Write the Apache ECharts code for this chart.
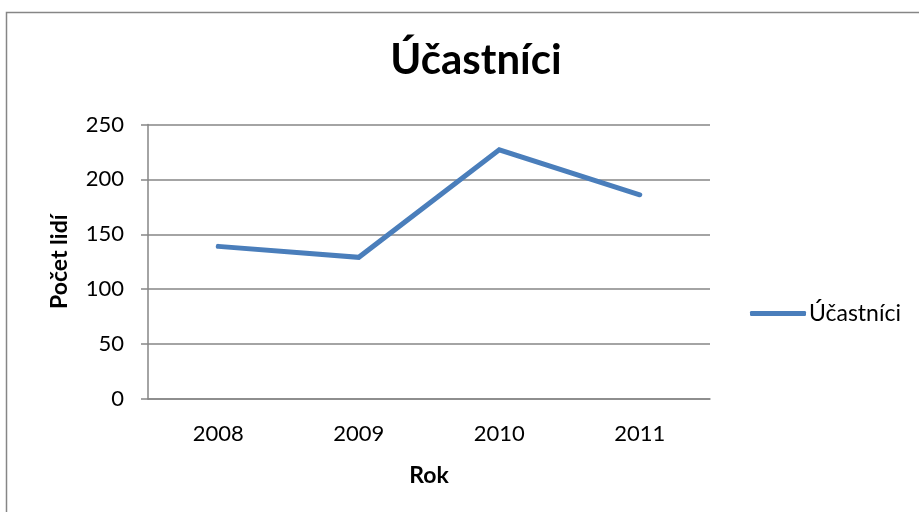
<!DOCTYPE html>
<html><head><meta charset="utf-8">
<script src="https://cdn.jsdelivr.net/npm/echarts@6/dist/echarts.min.js"></script>
<style>html,body{margin:0;padding:0;background:#fff}#c{width:919px;height:512px}</style>
</head><body><div id="c"></div>
<script>
const categories = ['2008', '2009', '2010', '2011'];
const seriesName = 'Účastníci';
const values = [139, 129, 227, 186];
const yTicks = [0, 50, 100, 150, 200, 250];

const FONT = 'Lato, "Open Sans", sans-serif';
const chart = echarts.init(document.getElementById('c'), null, {renderer: 'canvas'});
chart.setOption({
  animation: false,
  backgroundColor: '#fff',
  graphic: [{
    type: 'rect', shape: {x: 6.5, y: 12.5, width: 930, height: 520},
    style: {fill: 'none', stroke: '#868686', lineWidth: 1.5}, silent: true
  }],
  title: {
    text: 'Účastníci', left: 471, top: 34, textAlign: 'center',
    textStyle: {fontFamily: FONT, fontWeight: 'bold', fontSize: 42, color: '#000'}
  },
  legend: {
    data: [seriesName], left: 745, top: 297, itemWidth: 56, itemHeight: 5, itemGap: 0,
    icon: 'roundRect',
    textStyle: {fontFamily: FONT, fontSize: 23, color: '#000', padding: [0, 0, 0, -2]}
  },
  grid: {left: 148, right: 209, top: 124.5, bottom: 113, containLabel: false},
  xAxis: {
    type: 'category', data: categories, boundaryGap: true,
    name: 'Rok', nameLocation: 'middle', nameGap: 65,
    nameTextStyle: {fontFamily: FONT, fontWeight: 'bold', fontSize: 23, color: '#000'},
    axisLine: {lineStyle: {color: '#868686', width: 1.5}},
    axisTick: {show: false},
    axisLabel: {fontFamily: FONT, fontSize: 22, color: '#000', margin: 24}
  },
  yAxis: {
    type: 'value', min: yTicks[0], max: yTicks[yTicks.length - 1], interval: 50,
    name: 'Počet lidí', nameLocation: 'middle', nameGap: 77, nameRotate: 90,
    nameTextStyle: {fontFamily: FONT, fontWeight: 'bold', fontSize: 23, color: '#000'},
    axisLine: {show: true, lineStyle: {color: '#868686', width: 1.5}},
    axisTick: {show: true, length: 7, lineStyle: {color: '#868686', width: 1.5}},
    splitLine: {lineStyle: {color: '#868686', width: 1.5}},
    axisLabel: {fontFamily: FONT, fontSize: 22, color: '#000', margin: 24}
  },
  series: [{
    name: seriesName, type: 'line', data: values, showSymbol: false, symbol: 'none',
    lineStyle: {color: '#4a7ebb', width: 5, cap: 'round', join: 'miter'},
    itemStyle: {color: '#4a7ebb'}
  }]
});
</script></body></html>
